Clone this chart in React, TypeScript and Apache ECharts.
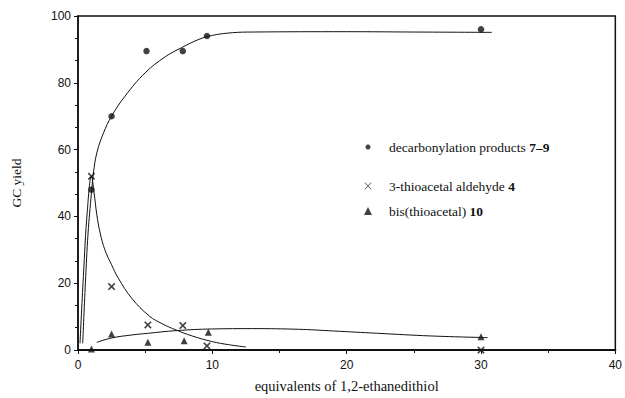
import React, { useEffect, useRef } from "react";
import * as echarts from "echarts";

const decarbPoints: [number, number][] = [[1, 48], [2.5, 70], [5.1, 89.5], [7.8, 89.5], [9.6, 94], [30, 96]];
const aldehydePoints: [number, number][] = [[1, 52], [2.5, 19], [5.2, 7.5], [7.8, 7.3], [9.6, 1.2], [30, 0]];
const bisPoints: [number, number][] = [[1, 0.3], [2.5, 4.8], [5.2, 2.3], [7.9, 2.8], [9.7, 5.3], [30, 4]];

const decarbCurve: [number, number][] = [
  [0.35, 2], [0.55, 20], [0.75, 35], [1.0, 47], [1.15, 53], [1.4, 59], [1.9, 65], [2.5, 70],
  [3.5, 76], [5.0, 83], [6.5, 87.8], [7.7, 90.5], [9.0, 93], [10, 94.2], [11.5, 95], [13, 95.2],
  [20, 95.3], [25, 95.2], [30.8, 95.1],
];
const aldehydeCurve: [number, number][] = [
  [0.15, 2], [0.4, 22], [0.7, 42], [1.0, 52], [1.2, 47], [1.4, 40.5], [1.65, 35], [2.0, 30],
  [2.5, 25.5], [3.0, 21.5], [4.0, 15.5], [5.3, 10.2], [6.3, 7.8], [7.3, 6], [8.5, 4.2], [10, 2.5],
  [11.2, 1.6], [12.5, 0.9],
];
const bisCurve: [number, number][] = [
  [1.4, 2.3], [2.5, 3.6], [4.0, 4.5], [5.2, 5], [7.3, 5.8], [10, 6.3], [13, 6.4], [16.4, 6.2],
  [19, 5.7], [22.3, 5], [26.3, 4.2], [30.5, 3.7],
];

const xTicks = { min: 0, max: 40, interval: 10 };
const yTicks = { min: 0, max: 100, interval: 20 };

const seriesNames = ["decarbonylation products 7–9", "3-thioacetal aldehyde 4", "bis(thioacetal) 10"];
const legendRows = [143, 182, 207];

const CROSS = "path://M0,1.5L1.5,0L5,3.5L8.5,0L10,1.5L6.5,5L10,8.5L8.5,10L5,6.5L1.5,10L0,8.5L3.5,5Z";
const THIN_CROSS = "path://M0,0.6L0.6,0L5,4.4L9.4,0L10,0.6L5.6,5L10,9.4L9.4,10L5,5.6L0.6,10L0,9.4L4.4,5Z";

export default function App() {
  const ref = useRef<HTMLDivElement>(null);
  useEffect(() => {
    if (!ref.current) return;
    const chart = echarts.init(ref.current, undefined, { renderer: "svg" });
    const serif = "'Liberation Serif', 'DejaVu Serif', serif";
    const sans = "'Liberation Sans', Arial, sans-serif";
    const rich = {
      n: { fontFamily: serif, fontSize: 13.5, color: "#111" },
      b: { fontFamily: serif, fontSize: 13.5, color: "#111", fontWeight: "bold" as const },
    };
    const fmt = (name: string) => {
      const i = name.lastIndexOf(" ");
      return `{n|${name.slice(0, i + 1)}}{b|${name.slice(i + 1)}}`;
    };
    const icons = ["circle", THIN_CROSS, "triangle"];
    const iconSizes = [5, 7, 8];
    const lineStyle = { color: "#111", width: 1 };
    chart.setOption({
      animation: false,
      backgroundColor: "#fff",
      grid: { left: 78, right: 6, top: 16, bottom: 48, show: true, borderColor: "#111", borderWidth: 1.5 },
      legend: seriesNames.map((n, i) => ({
        data: [{ name: n, icon: icons[i] }],
        left: 363 - iconSizes[i] / 2,
        top: legendRows[i] - 8,
        itemWidth: iconSizes[i],
        itemHeight: iconSizes[i],
        formatter: fmt,
        textStyle: { rich, padding: [0, 0, 0, 16 - iconSizes[i] / 2] },
        selectedMode: false,
      })),
      xAxis: {
        type: "value",
        ...xTicks,
        name: "equivalents of 1,2-ethanedithiol",
        nameLocation: "middle",
        nameGap: 28,
        nameTextStyle: { fontFamily: serif, fontSize: 14.5, color: "#111" },
        axisLine: { show: true, lineStyle: { color: "#111", width: 2 } },
        axisTick: { show: true, length: 4, lineStyle: { color: "#111" } },
        minorTick: { show: true, splitNumber: 2, length: 3, lineStyle: { color: "#111" } },
        splitLine: { show: false },
        axisLabel: { fontFamily: sans, fontSize: 12, color: "#111", margin: 9 },
      },
      yAxis: {
        type: "value",
        ...yTicks,
        name: "GC yield",
        nameLocation: "middle",
        nameGap: 55,
        nameTextStyle: { fontFamily: serif, fontSize: 13.5, color: "#111" },
        axisLine: { show: true, lineStyle: { color: "#111", width: 1.5 } },
        axisTick: { show: true, length: 4, lineStyle: { color: "#111" } },
        minorTick: { show: true, splitNumber: 3, length: 3, lineStyle: { color: "#111" } },
        splitLine: { show: false },
        axisLabel: { fontFamily: sans, fontSize: 12, color: "#111", margin: 7 },
      },
      series: [
        { name: seriesNames[0], type: "scatter", data: decarbPoints, symbol: "circle", symbolSize: 6.5, itemStyle: { color: "#111" }, z: 5 },
        { name: seriesNames[1], type: "scatter", data: aldehydePoints, symbol: CROSS, symbolSize: 7.5, itemStyle: { color: "#111" }, z: 5 },
        { name: seriesNames[2], type: "scatter", data: bisPoints, symbol: "triangle", symbolSize: 7, itemStyle: { color: "#111" }, z: 5 },
        { name: "fit1", type: "line", data: decarbCurve, smooth: 0.4, showSymbol: false, lineStyle, silent: true },
        { name: "fit2", type: "line", data: aldehydeCurve, smooth: 0.4, showSymbol: false, lineStyle, silent: true },
        { name: "fit3", type: "line", data: bisCurve, smooth: 0.4, showSymbol: false, lineStyle, silent: true },
      ],
    });
    return () => chart.dispose();
  }, []);
  return <div ref={ref} style={{ width: 625, height: 398, position: "absolute", left: 0, top: 0 }} />;
}
